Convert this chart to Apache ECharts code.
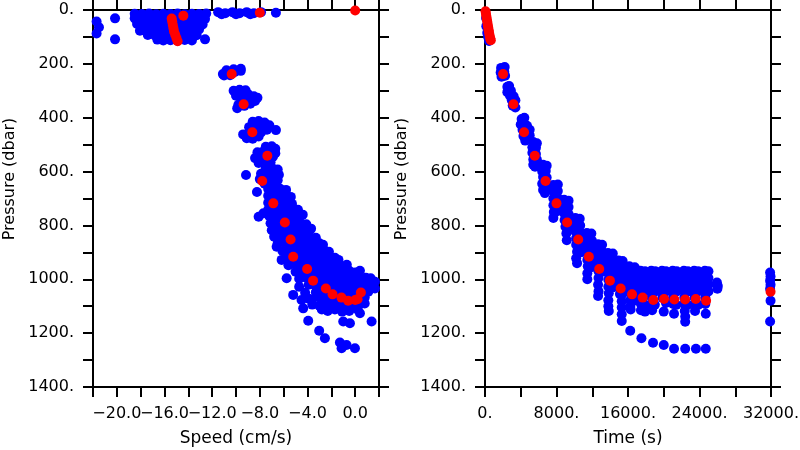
<!DOCTYPE html>
<html><head><meta charset="utf-8">
<script src="https://cdn.jsdelivr.net/npm/echarts/dist/echarts.min.js"></script>
<style>html,body{margin:0;padding:0;background:#fff}#c{width:800px;height:450px}</style>
</head><body><div id="c"></div>
<script>
// ---------- DATA ----------
const speedTickLabels = [-20, -16, -12, -8, -4, 0];
const timeTickLabels = [0, 8000, 16000, 24000, 32000];
const pressureTickLabels = [0, 200, 400, 600, 800, 1000, 1200, 1400];

// Left panel: [speed (cm/s), pressure (dbar)]
const speedBlue = [
  [-21.7,43],[-21.5,64],[-21.7,87],[-20.15,31],[-20.15,109],
  [-18.5,14],[-17.9,15],[-17.3,13],[-16.7,16],[-16.1,14],[-15.5,15],[-14.9,13],[-14.3,16],[-13.7,14],[-13.1,15],[-12.5,13],
  [-18.5,31],[-18.0,34],[-17.4,33],[-16.8,35],[-16.2,32],[-15.6,34],[-15.0,33],[-14.4,35],[-13.8,32],[-13.2,34],[-12.6,33],
  [-18.3,52],[-17.6,54],[-17.0,53],[-16.4,55],[-15.8,52],[-15.2,54],[-14.6,53],[-14.0,55],[-13.4,52],[-12.8,54],
  [-18.06,77],[-17.6,72],[-17.0,74],[-16.4,73],[-15.8,75],[-15.2,72],[-14.6,74],[-14.0,73],[-13.4,75],[-13.1,72],
  [-17.4,93],[-16.8,95],[-16.2,92],[-15.6,94],[-15.0,93],[-14.4,95],[-13.8,92],[-13.3,94],
  [-16.6,110],[-16.1,113],[-15.5,112],[-14.9,114],[-14.3,111],[-13.7,113],[-12.6,109],
  [-11.5,8],[-10.9,12],[-10.3,8],[-9.7,12],[-9.1,8],[-8.5,12],[-7.9,8],[-11.2,16],[-10.0,16],[-8.8,16],[-6.65,10],
  [-11.1,238],[-10.6,234],[-10.1,230],[-9.6,226],[-10.8,224],[-10.2,220],[-9.6,218],[-11.0,243],[-10.5,242],
  [-10.2,300],[-9.7,296],[-9.2,298],[-10.0,318],[-9.5,314],[-9.0,312],[-8.5,320],[-9.4,335],[-8.9,332],[-8.4,338],[-8.2,326],[-9.8,352],[-9.3,356],[-8.8,348],[-9.9,365],
  [-8.6,415],[-8.1,412],[-7.6,418],[-7.2,428],[-8.9,435],[-8.4,432],[-7.9,438],[-7.4,445],[-9.4,462],[-8.9,458],[-8.4,462],[-7.9,455],[-9.1,476],[-8.6,478],[-8.1,470],[-6.65,446],
  [-7.5,508],[-7.0,506],[-6.7,515],[-8.2,528],[-7.7,525],[-7.2,522],[-6.7,532],[-8.4,550],[-7.9,552],[-7.4,548],[-6.9,545],[-8.1,568],[-7.6,570],[-7.1,565],[-9.16,613],
  [-7.5,588],[-7.0,586],[-6.5,592],[-7.9,608],[-7.4,604],[-6.9,608],[-6.4,612],[-8.0,628],[-7.5,632],[-7.0,627],[-6.5,632],[-7.6,645],[-7.1,640],
  [-7.3,665],[-6.8,660],[-6.3,664],[-5.8,668],[-8.24,676],
  [-7.3,690],[-6.8,686],[-6.3,692],[-5.8,688],[-5.4,694],
  [-7.3,716],[-6.8,712],[-6.3,718],[-5.8,714],[-5.3,720],
  [-7.3,742],[-6.8,738],[-6.3,744],[-5.8,740],[-5.3,746],[-4.8,742],
  [-8.1,768],[-7.7,755],[-7.2,766],[-6.7,762],[-6.2,768],[-5.7,764],[-5.2,770],[-4.7,766],[-4.4,760],
  [-7.1,792],[-6.6,788],[-6.1,794],[-5.6,788],[-5.1,795],[-4.6,790],[-4.1,796],
  [-7.0,818],[-6.5,812],[-6.0,820],[-5.5,814],[-5.0,820],[-4.5,815],[-4.0,822],[-3.7,812],
  [-6.8,842],[-6.3,838],[-5.8,845],[-5.3,840],[-4.8,842],[-4.3,848],[-3.8,842],[-3.3,846],
  [-6.5,866],[-6.0,862],[-5.5,870],[-5.0,865],[-4.5,872],[-4.0,866],[-3.5,872],[-3.0,866],[-2.7,872],
  [-6.59,879],[-6.1,895],[-5.6,888],[-5.1,895],[-4.6,890],[-4.1,898],[-3.6,892],[-3.1,898],[-2.6,892],[-2.2,898],
  [-6.17,928],[-5.7,918],[-5.2,925],[-4.7,915],[-4.2,922],[-3.7,918],[-3.2,925],[-2.7,920],[-2.2,926],[-1.7,920],[-1.4,928],
  [-5.6,948],[-5.1,942],[-4.6,950],[-4.1,944],[-3.6,946],[-3.1,950],[-2.6,944],[-2.1,950],[-1.6,945],[-1.1,952],[-0.7,946],
  [-5.75,996],[-5.0,972],[-4.5,968],[-4.0,975],[-3.5,968],[-3.0,974],[-2.5,968],[-2.0,975],[-1.5,968],[-1.0,974],[-0.5,968],[0.0,975],[0.4,968],
  [-4.7,998],[-4.1,994],[-3.6,1000],[-3.1,994],[-2.6,1000],[-2.1,994],[-1.6,1000],[-1.1,994],[-0.6,1000],[-0.1,994],[0.4,1000],[0.9,994],[1.3,996],
  [-4.7,1028],[-3.9,1020],[-3.3,1025],[-2.7,1022],[-2.1,1018],[-1.6,1024],[-1.1,1018],[-0.6,1024],[-0.1,1018],[0.4,1024],[0.9,1018],[1.3,1022],[1.66,1009],[1.66,1034],
  [-4.2,1050],[-3.3,1048],[-2.8,1044],[-2.3,1050],[-1.8,1046],[-1.3,1042],[-0.8,1048],[-0.3,1042],[0.2,1048],[0.7,1042],[1.1,1046],
  [-5.2,1058],[-3.9,1072],[-3.3,1066],[-2.8,1075],[-2.3,1068],[-1.8,1072],[-1.3,1068],[-0.8,1074],[-0.3,1068],[0.3,1072],[0.8,1068],
  [-4.5,1077],[-3.6,1094],[-3.0,1098],[-2.5,1092],[-1.9,1098],[-1.3,1092],[-0.8,1098],[-0.2,1092],[0.3,1096],[0.8,1090],
  [-4.36,1108],[-2.8,1112],[-2.3,1118],[-1.7,1112],[-1.1,1120],[-0.5,1118],[0.2,1112],[0.4,1126],
  [-3.94,1154],[-3.02,1191],[-2.54,1219],[-1.28,1235],[-1.14,1256],[-0.72,1244],[-0.02,1256],[1.38,1157],[-1.0,1157],[-0.44,1163]
];
const speedRed = [
  [-15.4,32],[-15.35,44],[-15.3,56],[-15.25,68],[-15.2,80],[-15.1,92],[-15.0,104],[-14.9,116],[-14.42,21],
  [-8.0,10],[0.0,2],
  [-10.36,238],[-9.36,350],[-8.63,454],[-7.37,541],[-7.8,635],[-6.87,718],[-5.9,789],[-5.42,852],[-5.2,916],
  [-4.03,962],[-3.53,1005],[-2.46,1034],[-1.9,1056],[-1.15,1068],[-0.59,1080],[0.0,1077],[0.2,1074],[0.48,1049]
];

// Right panel: [time (s), pressure (dbar)]
const timeBlue = [
  [150,60],[250,85],[350,100],[450,115],[120,30],
  [1800,215],[2200,212],[1750,232],[2150,228],[1850,248],[2250,244],
  [2500,285],[2700,282],[2500,305],[2900,300],[2800,318],[3200,320],[3000,335],[3400,335],[3100,355],[3400,362],[2650,295],
  [4100,405],[4400,400],[4000,425],[4400,422],[4700,430],[4200,445],[4700,448],[5000,445],[4300,468],[4700,470],[5000,465],[4500,485],
  [5400,490],[5800,495],[5300,510],[5700,512],[5300,530],[5700,535],[5400,555],[5800,555],[5400,575],[5600,582],
  [6500,575],[6900,578],[6400,600],[6800,598],[6500,620],[6900,622],[6400,645],[6800,648],[6500,668],[6700,680],[7000,660],
  [7650,650],[8150,648],[7650,675],[8150,672],[7650,700],[8150,698],[7650,725],[8150,722],[7700,750],[8000,748],[7650,772],
  [8850,705],[9350,708],[8850,730],[9350,732],[8850,755],[9350,758],[8900,780],[9350,782],[9000,805],[9300,808],[9100,830],[9150,855],
  [10100,772],[10600,775],[10100,798],[10650,800],[10100,822],[10650,825],[10200,848],[10700,850],[10200,872],[10700,875],[10300,898],[10700,900],[10200,922],[10300,940],
  [11400,828],[11900,830],[11400,852],[11950,855],[11400,878],[11950,880],[11450,902],[11950,905],[11450,928],[11950,930],[11500,952],[11900,955],[11450,978],[11450,1000],
  [12650,870],[13100,872],[12650,895],[13100,897],[12650,920],[13100,922],[12650,945],[13150,947],[12700,970],[13100,972],[12700,995],[12650,1020],[12700,1045],[12650,1062],
  [13750,902],[14300,904],[13750,928],[14300,930],[13750,952],[14350,955],[13800,978],[14350,980],[13800,1002],[14300,1005],[13800,1028],[14300,1030],[13850,1052],[13800,1078],[13800,1100],[13850,1118],
  [14950,930],[15400,932],[14950,955],[15400,957],[14950,980],[15400,982],[15000,1005],[15400,1008],[15000,1030],[15450,1032],[15100,1055],[15300,1058],[15300,1082],[15300,1105],[15300,1130],[15300,1155],
  [16150,952],[16750,955],[16150,978],[16750,980],[16200,1002],[16750,1005],[16200,1028],[16700,1030],[16250,1052],[16700,1055],[16250,1078],[16700,1080],[16250,1100],[16300,1112],[16250,1191],
  [17400,968],[17900,970],[17400,992],[17900,995],[17400,1018],[17900,1020],[17450,1042],[17900,1045],[17450,1068],[17450,1092],[17900,1095],[17450,1115],[17900,1120],[17500,1219],
  [18600,968],[19050,970],[18600,992],[19050,995],[18600,1018],[19050,1020],[18650,1042],[19050,1045],[18650,1068],[18650,1092],[19000,1095],[18700,1115],[18800,1236],
  [19800,968],[20250,970],[19800,992],[20250,995],[19800,1018],[20200,1020],[19850,1042],[20250,1045],[19850,1068],[20250,1088],[20000,1120],[20000,1244],
  [21000,968],[21450,970],[21000,992],[21450,995],[21000,1018],[21450,1020],[21000,1042],[21450,1045],[21050,1068],[21050,1092],[21400,1095],[21150,1128],[21150,1258],
  [22250,968],[22700,970],[22250,992],[22700,995],[22250,1018],[22700,1020],[22250,1042],[22700,1045],[22300,1068],[22300,1092],[22650,1095],[22350,1118],[22400,1138],[22400,1158],[22400,1258],
  [23400,968],[23850,970],[23400,992],[23850,995],[23400,1018],[23850,1020],[23400,1042],[23850,1045],[23450,1068],[23450,1092],[23850,1095],[23500,1118],[23600,1258],
  [24600,968],[25000,970],[24600,992],[25000,995],[24600,1018],[25000,1020],[24600,1042],[25000,1045],[24650,1068],[24650,1092],[24700,1128],[24700,1258],
  [25950,1012],[26050,1025],[26000,1035],
  [31900,975],[31950,990],[31900,1005],[31950,1020],[31900,1035],[31950,1080],[31900,1157]
];
const timeRed = [
  [60,5],[110,15],[160,25],[210,35],[260,45],[310,55],[360,65],[410,75],[460,85],[520,95],[580,105],[650,112],
  [2020,238],[3180,350],[4370,454],[5570,541],[6770,635],[8000,718],[9190,789],[10430,852],[11620,916],[12780,962],
  [13980,1005],[15180,1034],[16450,1056],[17640,1068],[18830,1077],[20030,1073],[21190,1075],[22390,1075],[23580,1073],[24740,1080],
  [31950,1046]
];

// ---------- CHART ----------
const FONT = 'DejaVu Sans';
const LINE = {color:'#000', width:2};
function axisLab(fmt) {
  return fmt ? {show: true, formatter: fmt, margin: 19, color: '#000', fontSize: 16, fontFamily: FONT, showMinLabel: true, showMaxLabel: true} : {show: false};
}
function xAx(grid, min, max, interval, pos, fmt) {
  return {
    gridIndex: grid, type: 'value', min: min, max: max, interval: interval, position: pos,
    axisLine: {show: true, onZero: false, lineStyle: LINE},
    axisTick: {show: true, inside: false, length: 10, lineStyle: LINE},
    axisLabel: axisLab(fmt), splitLine: {show: false}
  };
}
function yAx(grid, pos, fmt) {
  return {
    gridIndex: grid, type: 'value', min: 0, max: 1400, interval: 100, inverse: true, position: pos,
    axisLine: {show: true, onZero: false, lineStyle: LINE},
    axisTick: {show: true, inside: false, length: 10, lineStyle: LINE},
    axisLabel: axisLab(fmt), splitLine: {show: false}
  };
}
const pFmt = v => pressureTickLabels.includes(v) ? v + '.' : '';
const sFmt = v => speedTickLabels.includes(v) ? (v < 0 ? '\u2212' : '') + Math.abs(v).toFixed(1) : '';
const tFmt = v => timeTickLabels.includes(v) ? v + '.' : '';

const chart = echarts.init(document.getElementById('c'), null, {renderer: 'canvas'});
const sym = (c) => ({type: 'scatter', symbol: 'circle', symbolSize: 10, itemStyle: {color: c, opacity: 1}, silent: true, animation: false});
chart.setOption({
  backgroundColor: '#fff',
  animation: false,
  grid: [
    {left: 93, right: 421, top: 10, bottom: 63, containLabel: false, outerBoundsMode: 'none'},
    {left: 485, right: 29, top: 10, bottom: 63, containLabel: false, outerBoundsMode: 'none'}
  ],
  xAxis: [
    xAx(0, -22, 2, 2, 'bottom', sFmt),
    xAx(0, -22, 2, 2, 'top', null),
    xAx(1, 0, 32000, 4000, 'bottom', tFmt),
    xAx(1, 0, 32000, 4000, 'top', null)
  ],
  yAxis: [
    yAx(0, 'left', pFmt), yAx(0, 'right', null),
    yAx(1, 'left', pFmt), yAx(1, 'right', null)
  ],
  series: [
    Object.assign(sym('#0000ff'), {xAxisIndex: 0, yAxisIndex: 0, data: speedBlue}),
    Object.assign(sym('#ff0000'), {xAxisIndex: 0, yAxisIndex: 0, data: speedRed}),
    Object.assign(sym('#0000ff'), {xAxisIndex: 2, yAxisIndex: 2, data: timeBlue}),
    Object.assign(sym('#ff0000'), {xAxisIndex: 2, yAxisIndex: 2, data: timeRed})
  ],
  graphic: [
    {type: 'text', x: 236, y: 439, style: {text: 'Speed (cm/s)', font: '17px "DejaVu Sans"', fill: '#000', textAlign: 'center', textVerticalAlign: 'middle'}},
    {type: 'text', x: 628, y: 439, style: {text: 'Time (s)', font: '17px "DejaVu Sans"', fill: '#000', textAlign: 'center', textVerticalAlign: 'middle'}},
    {type: 'text', x: 10, y: 179, rotation: Math.PI / 2, style: {text: 'Pressure (dbar)', font: '16px "DejaVu Sans"', fill: '#000', textAlign: 'center', textVerticalAlign: 'middle'}},
    {type: 'text', x: 402, y: 179, rotation: Math.PI / 2, style: {text: 'Pressure (dbar)', font: '16px "DejaVu Sans"', fill: '#000', textAlign: 'center', textVerticalAlign: 'middle'}}
  ]
});
</script>
</body></html>
